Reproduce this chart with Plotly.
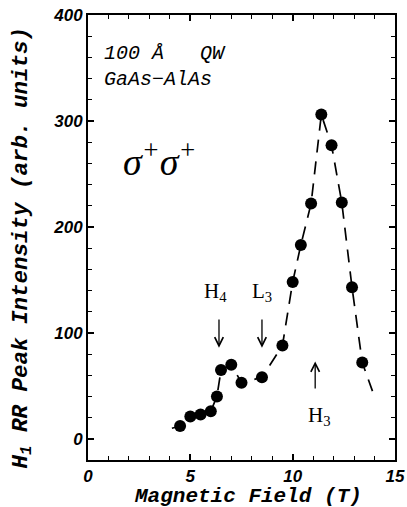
import plotly.graph_objects as go

# Data
field = [4.5, 5.0, 5.5, 6.0, 6.3, 6.5, 7.0, 7.5, 8.5, 9.5, 10.0, 10.4, 10.9, 11.4, 11.9, 12.4, 12.9, 13.4]
intensity = [12, 21, 23, 26, 40, 65, 70, 53, 58, 88, 148, 183, 222, 306, 277, 223, 143, 72]

# Dashed guide curve (through the points, with its end extensions)
guide_x = [4.1] + field + [13.9]
guide_y = [10] + intensity + [45]

x_ticks = [0, 5, 10, 15]
y_ticks = [0, 100, 200, 300, 400]

# arrow annotations: label, x, tail y, tip y, label x, label y
arrows = [
    ("H<sub>4</sub>", 6.4, 114, 86, 6.25, 139),
    ("L<sub>3</sub>", 8.5, 114, 86, 8.5, 139),
    ("H<sub>3</sub>", 11.1, 46, 73, 11.3, 22),
]

fig = go.Figure()
fig.add_trace(go.Scatter(x=guide_x, y=guide_y, mode="lines",
                         line=dict(color="black", width=1.7, dash="13px,9px"),
                         hoverinfo="skip", showlegend=False))
fig.add_trace(go.Scatter(x=field, y=intensity, mode="markers",
                         marker=dict(color="black", size=12),
                         showlegend=False))

tickfont = dict(family="Liberation Sans", size=17, color="black", weight="bold", style="italic")
axis_common = dict(showgrid=False, zeroline=False, showline=True, linecolor="black", linewidth=2,
                   mirror="allticks", ticks="inside", ticklen=6, tickwidth=1.5, tickcolor="black",
                   tickfont=tickfont, automargin=False)

fig.update_xaxes(range=[0, 15], tickvals=x_ticks, ticktext=[str(v) for v in x_ticks],
                 minor=dict(dtick=1, tick0=0, ticks="inside", ticklen=4, tickwidth=1.3, tickcolor="black"),
                 **axis_common)
fig.update_yaxes(range=[-20, 400], tickvals=y_ticks, ticktext=[str(v) for v in y_ticks],
                 minor=dict(dtick=20, tick0=0, ticks="inside", ticklen=4, tickwidth=1.3, tickcolor="black"),
                 **axis_common)

title_font = dict(family="Liberation Mono", size=21, color="black", style="italic", weight="bold")
annotations = [
    dict(text="Magnetic Field (T)", xref="paper", yref="paper", x=0.52,
         y=0, yshift=-36, showarrow=False, font=title_font, xanchor="center", yanchor="middle"),
    dict(text="H<sub>1</sub> RR Peak Intensity (arb. units)", xref="paper", yref="paper", x=0, xshift=-66,
         y=0.5, yshift=-10, textangle=-90, showarrow=False, font=dict(title_font, size=22.5),
         xanchor="center", yanchor="middle"),
    dict(text="100 Å   QW", x=0.68, y=364, xref="x", yref="y", showarrow=False,
         xanchor="left", yanchor="middle", font=dict(family="Liberation Mono", size=20, color="black", style="italic")),
    dict(text="GaAs−AlAs", x=0.68, y=339, xref="x", yref="y", showarrow=False,
         xanchor="left", yanchor="middle", font=dict(family="Liberation Mono", size=20, color="black", style="italic")),
    dict(text="σ<sup>+</sup>σ<sup>+</sup>", x=1.6, y=264, xref="x", yref="y", showarrow=False,
         xanchor="left", yanchor="middle", font=dict(family="Liberation Serif", size=38, color="black", style="italic")),
]
for label, ax_x, tail_y, tip_y, lx, ly in arrows:
    annotations.append(dict(x=ax_x, y=tip_y, ax=ax_x, ay=tail_y, xref="x", yref="y", axref="x", ayref="y",
                            text="", showarrow=True, arrowhead=5, arrowsize=1.3, arrowwidth=1.3,
                            arrowcolor="black"))
    annotations.append(dict(text=label, x=lx, y=ly, xref="x", yref="y", showarrow=False,
                            font=dict(family="Liberation Serif", size=21, color="black")))

fig.update_layout(width=407, height=507, margin=dict(l=88, r=12, t=15, b=47),
                  plot_bgcolor="white", paper_bgcolor="white", annotations=annotations)

fig.write_html("out.html", config={"displayModeBar": False},
               post_script="document.body.style.margin='0';document.body.style.overflow='hidden';")
